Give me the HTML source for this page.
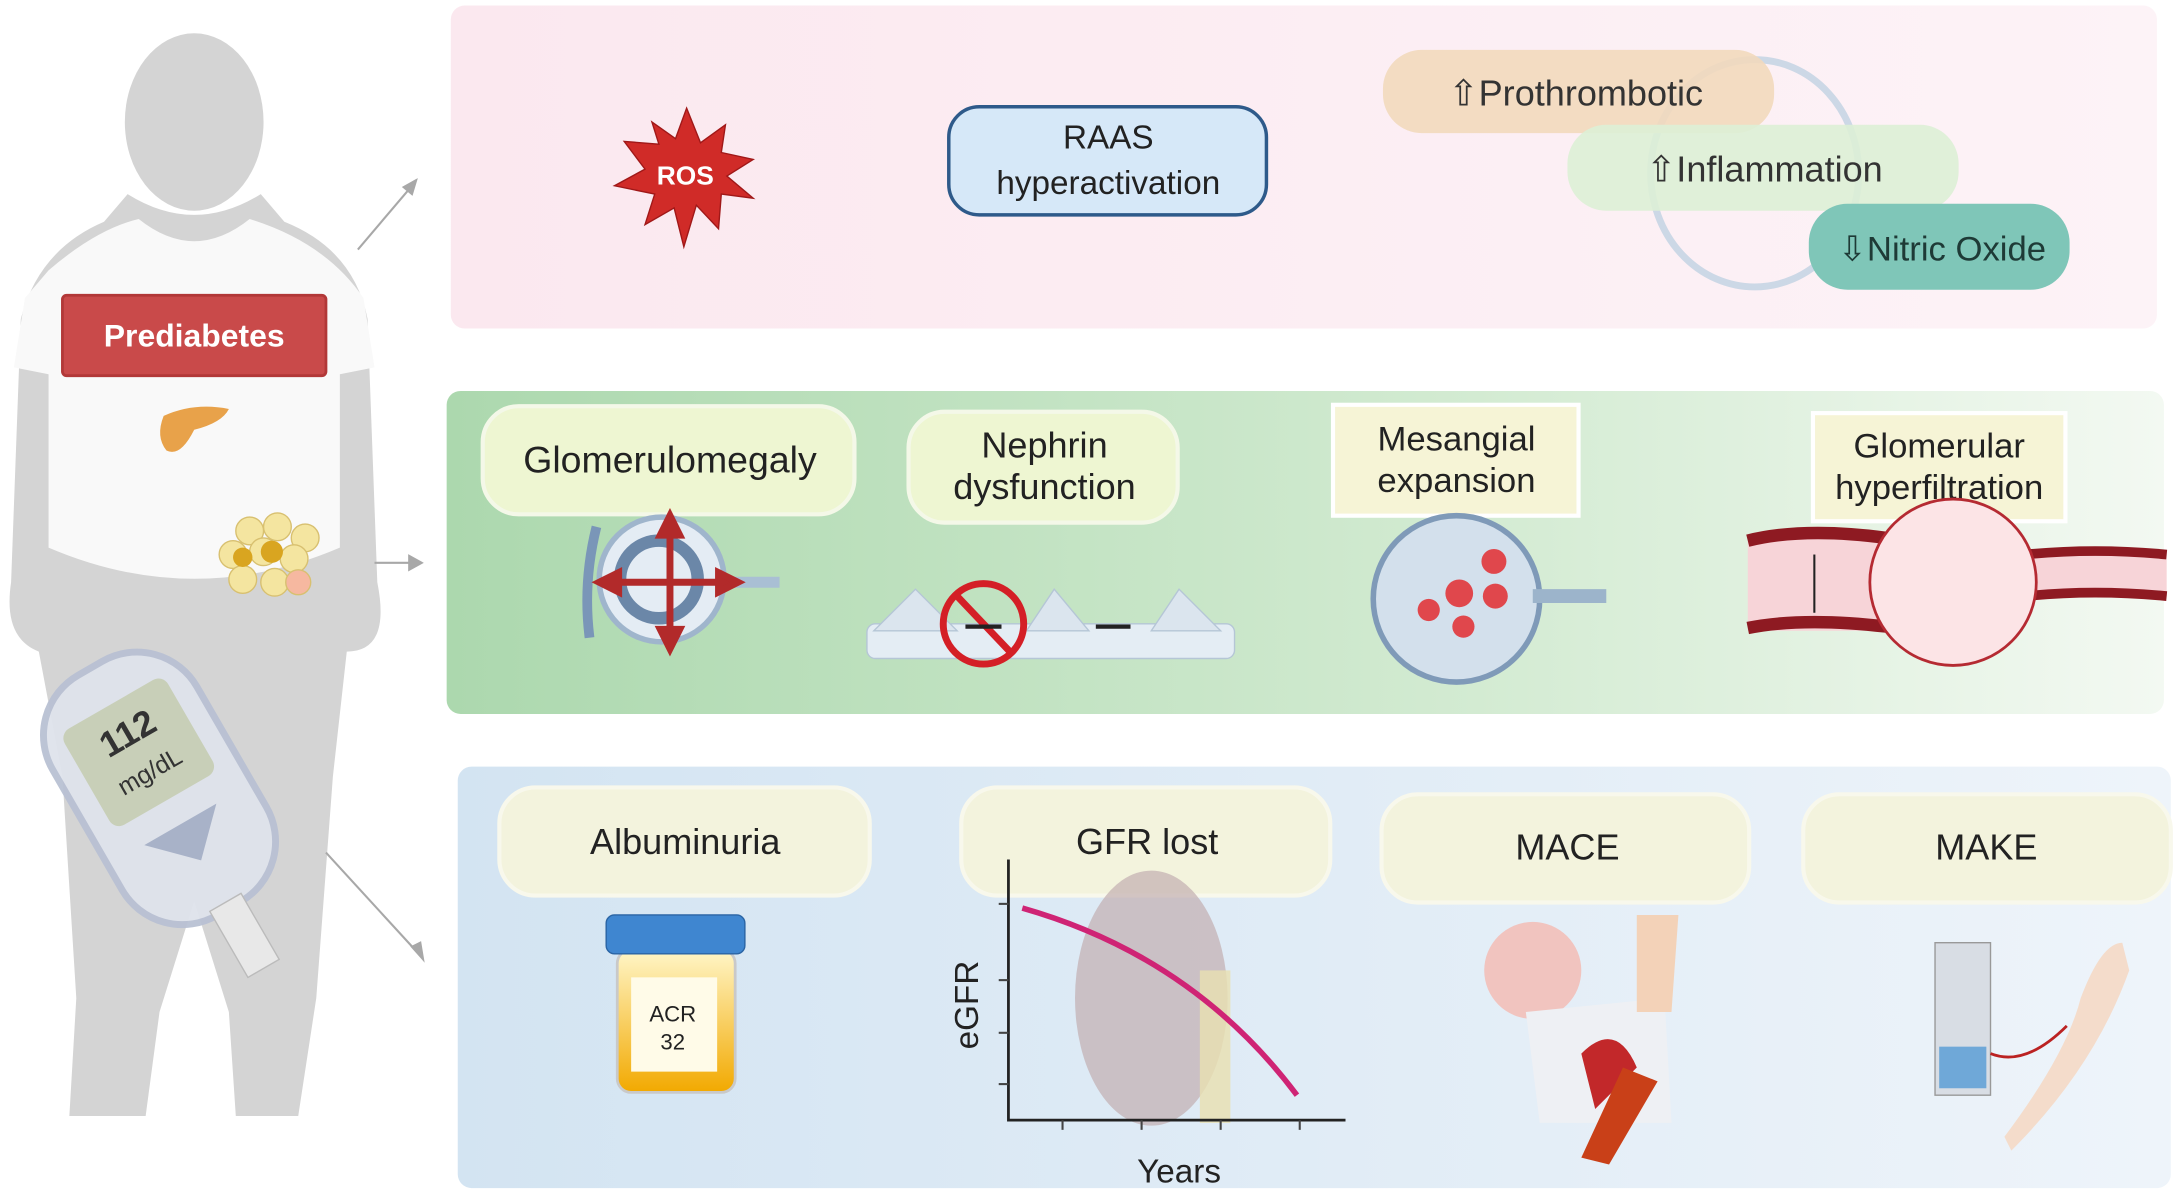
<!DOCTYPE html>
<html><head><meta charset="utf-8"><style>
html,body{margin:0;padding:0;background:#fff;}
svg{display:block;}
text{font-family:"Liberation Sans",sans-serif;}
</style></head><body>
<svg width="2175" height="1195" viewBox="0 0 1568 862" preserveAspectRatio="none" xmlns="http://www.w3.org/2000/svg">
<defs>
<linearGradient id="gp" x1="0" x2="1"><stop offset="0" stop-color="#fbe8ef"/><stop offset="1" stop-color="#fdf3f7"/></linearGradient>
<linearGradient id="gg" x1="0" x2="1"><stop offset="0" stop-color="#acd8ae"/><stop offset="0.6" stop-color="#d3ebd2"/><stop offset="1" stop-color="#f3f9f2"/></linearGradient>
<linearGradient id="gb" x1="0" x2="1"><stop offset="0" stop-color="#d3e4f2"/><stop offset="1" stop-color="#eef4fa"/></linearGradient>
<linearGradient id="gu" x1="0" x2="0" y1="0" y2="1"><stop offset="0" stop-color="#fff6c8"/><stop offset="1" stop-color="#f2a900"/></linearGradient>
</defs>
<rect width="1568" height="862" fill="#fff"/>
<rect x="325" y="4" width="1230" height="233" rx="10" fill="url(#gp)"/>
<rect x="322" y="282" width="1238" height="233" rx="10" fill="url(#gg)"/>
<rect x="330" y="553" width="1235" height="304" rx="10" fill="url(#gb)"/>

<!-- silhouette -->
<g fill="#d4d4d4">
<ellipse cx="140" cy="88" rx="50" ry="64"/>
<path d="M92 140 Q140 170 188 140 L205 160 Q255 180 265 230 L272 420 Q282 470 250 470 L240 560 L228 720 L215 805 L170 805 L165 730 L140 650 L115 730 L105 805 L50 805 L55 720 L45 560 L28 470 Q2 460 8 420 L15 230 Q28 180 75 160 Z"/>
</g>
<path d="M35 195 Q70 165 100 158 Q140 190 180 158 Q235 175 262 215 L270 265 L245 270 L245 395 Q140 440 35 395 L35 270 L10 265 L18 215 Z" fill="#f9f9f9"/>
<path d="M118 300 Q140 290 165 295 Q160 305 140 310 Q130 330 120 325 Q112 315 118 300Z" fill="#e8a24a"/>
<g fill="#f4e5a0" stroke="#d8c070" stroke-width="1">
<circle cx="180" cy="383" r="10"/><circle cx="200" cy="380" r="10"/><circle cx="220" cy="388" r="10"/><circle cx="168" cy="400" r="10"/><circle cx="190" cy="398" r="10"/><circle cx="212" cy="403" r="10"/><circle cx="175" cy="418" r="10"/><circle cx="198" cy="420" r="10"/><circle cx="215" cy="420" r="9" fill="#f6b8a0"/>
</g>
<circle cx="196" cy="398" r="8" fill="#d9a520"/><circle cx="175" cy="402" r="7" fill="#d9a520"/>
<g transform="rotate(-30 110 560)">
<rect x="50" y="470" width="120" height="200" rx="50" fill="#dfe3ec" stroke="#b9c1d3" stroke-width="5" opacity="0.95"/>
<rect x="67" y="500" width="86" height="80" rx="8" fill="#c8cfb8"/>
<text x="110" y="533" font-size="26" font-weight="bold" text-anchor="middle" fill="#333">112</text>
<text x="110" y="562" font-size="18" text-anchor="middle" fill="#333">mg/dL</text>
<path d="M80 600 L140 600 L110 630Z" fill="#a8b2c8"/>
<rect x="97" y="665" width="26" height="55" fill="#e8e8e8" stroke="#bbb"/>
</g>
<rect x="45" y="213" width="190" height="58" rx="3" fill="#c94a4a" stroke="#b23838" stroke-width="2"/>
<text x="140" y="250" font-size="23" font-weight="bold" text-anchor="middle" fill="#fff">Prediabetes</text>

<g stroke="#a8a8a8" stroke-width="1.5" fill="#a8a8a8">
<line x1="258" y1="180" x2="297" y2="134"/><path d="M300 130 L291 135 L297 140Z"/>
<line x1="270" y1="406" x2="296" y2="406"/><path d="M304 406 L295 401 L295 411Z"/>
<line x1="235" y1="615" x2="300" y2="686"/><path d="M305 692 L297 683 L303 680Z"/>
</g>

<path d="M495 78 L505 103 L523 90 L520 110 L543 115 L524 127 L543 143 L520 140 L518 165 L502 148 L493 178 L486 150 L465 162 L472 140 L443 134 L465 122 L450 102 L475 104 L470 88 L487 100Z" fill="#d02b28" stroke="#a01818"/>
<text x="494" y="133" font-size="19" font-weight="bold" text-anchor="middle" fill="#fff">ROS</text>
<rect x="684" y="77" width="229" height="78" rx="22" fill="#d6e8f8" stroke="#2e5a8a" stroke-width="2.5"/>
<text x="799" y="107" font-size="24" text-anchor="middle" fill="#222">RAAS</text>
<text x="799" y="140" font-size="24" text-anchor="middle" fill="#222">hyperactivation</text>
<ellipse cx="1265" cy="125" rx="75" ry="82" fill="none" stroke="#b8cde0" stroke-width="5" opacity="0.7"/>
<rect x="997" y="36" width="282" height="60" rx="28" fill="#f2d9bd" opacity="0.9"/>
<text x="1136" y="76" font-size="26" text-anchor="middle" fill="#333">⇧Prothrombotic</text>
<rect x="1130" y="90" width="282" height="62" rx="28" fill="#ddf0d6" opacity="0.9"/>
<text x="1272" y="131" font-size="26" text-anchor="middle" fill="#333">⇧Inflammation</text>
<rect x="1304" y="147" width="188" height="62" rx="28" fill="#7fc6b8"/>
<text x="1400" y="188" font-size="25" text-anchor="middle" fill="#1e3a36">⇩Nitric Oxide</text>

<rect x="348" y="293" width="268" height="78" rx="26" fill="#eef6d2" stroke="#f4f8e8" stroke-width="3"/>
<text x="483" y="341" font-size="27" text-anchor="middle" fill="#222">Glomerulomegaly</text>
<rect x="655" y="297" width="194" height="80" rx="26" fill="#eef6d2" stroke="#f4f8e8" stroke-width="3"/>
<text x="753" y="330" font-size="26" text-anchor="middle" fill="#222">Nephrin</text>
<text x="753" y="360" font-size="26" text-anchor="middle" fill="#222">dysfunction</text>
<rect x="961" y="292" width="177" height="80" fill="#f6f4d6" stroke="#fff" stroke-width="3"/>
<text x="1050" y="325" font-size="25" text-anchor="middle" fill="#222">Mesangial</text>
<text x="1050" y="355" font-size="25" text-anchor="middle" fill="#222">expansion</text>
<rect x="1307" y="298" width="182" height="78" fill="#f6f4d6" stroke="#fff" stroke-width="3"/>
<text x="1398" y="330" font-size="25" text-anchor="middle" fill="#222">Glomerular</text>
<text x="1398" y="360" font-size="25" text-anchor="middle" fill="#222">hyperfiltration</text>
<circle cx="477" cy="418" r="45" fill="#e4ecf4" stroke="#9fb5cc" stroke-width="4"/>
<circle cx="475" cy="418" r="28" fill="none" stroke="#6b87a8" stroke-width="9"/>
<path d="M520 420 L562 420" stroke="#a9bfd4" stroke-width="8"/>
<path d="M430 380 Q420 420 425 460" stroke="#7a96b8" stroke-width="7" fill="none"/>
<g stroke="#b22a2a" stroke-width="5" fill="#b22a2a"><line x1="483" y1="380" x2="483" y2="460"/><line x1="440" y1="420" x2="525" y2="420"/>
<path d="M483 372 L476 386 L490 386Z"/><path d="M483 468 L476 454 L490 454Z"/><path d="M432 420 L446 413 L446 427Z"/><path d="M532 420 L518 413 L518 427Z"/></g>
<rect x="625" y="450" width="265" height="25" rx="6" fill="#e4edf4" stroke="#b5c6d6"/>
<path d="M630 455 L660 425 L690 455Z M740 455 L760 425 L785 455Z M830 455 L850 425 L880 455Z" fill="#dbe5ee" stroke="#b5c6d6"/>
<circle cx="709" cy="450" r="29" fill="none" stroke="#d41f26" stroke-width="5"/>
<line x1="690" y1="430" x2="728" y2="470" stroke="#d41f26" stroke-width="5"/>
<line x1="696" y1="452" x2="722" y2="452" stroke="#222" stroke-width="3"/>
<line x1="790" y1="452" x2="815" y2="452" stroke="#222" stroke-width="3"/>
<circle cx="1050" cy="432" r="60" fill="#d3e0ec" stroke="#7f9ab8" stroke-width="4"/>
<path d="M1105 430 L1158 430" stroke="#9cb4cb" stroke-width="10"/>
<g fill="#e0474c"><circle cx="1077" cy="405" r="9"/><circle cx="1052" cy="428" r="10"/><circle cx="1078" cy="430" r="9"/><circle cx="1030" cy="440" r="8"/><circle cx="1055" cy="452" r="8"/></g>
<path d="M1260 390 L1370 385 L1370 455 L1260 455Z" fill="#f7d4d8"/>
<path d="M1260 390 Q1300 380 1360 388" stroke="#8e1a22" stroke-width="9" fill="none"/>
<path d="M1260 453 Q1300 445 1360 452" stroke="#8e1a22" stroke-width="9" fill="none"/>
<path d="M1460 400 L1562 398 L1562 430 L1460 428Z" fill="#f7d4d8"/>
<path d="M1460 400 Q1510 395 1562 400" stroke="#8e1a22" stroke-width="7" fill="none"/>
<path d="M1460 430 Q1510 425 1562 430" stroke="#8e1a22" stroke-width="7" fill="none"/>
<circle cx="1408" cy="420" r="60" fill="#fce4e6" stroke="#b52a32" stroke-width="2"/>
<line x1="1308" y1="400" x2="1308" y2="442" stroke="#222" stroke-width="1.5"/>

<rect x="360" y="568" width="267" height="78" rx="26" fill="#f3f3dd" stroke="#f8f8ec" stroke-width="3"/>
<text x="494" y="616" font-size="26" text-anchor="middle" fill="#222">Albuminuria</text>
<rect x="693" y="568" width="266" height="78" rx="26" fill="#f3f3dd" stroke="#f8f8ec" stroke-width="3"/>
<text x="827" y="616" font-size="26" text-anchor="middle" fill="#222">GFR lost</text>
<rect x="996" y="573" width="265" height="78" rx="26" fill="#f3f3dd" stroke="#f8f8ec" stroke-width="3"/>
<text x="1130" y="620" font-size="26" text-anchor="middle" fill="#222">MACE</text>
<rect x="1300" y="573" width="265" height="78" rx="26" fill="#f3f3dd" stroke="#f8f8ec" stroke-width="3"/>
<text x="1432" y="620" font-size="26" text-anchor="middle" fill="#222">MAKE</text>
<rect x="445" y="685" width="85" height="103" rx="10" fill="url(#gu)" stroke="#c9c9c9" stroke-width="2"/>
<rect x="437" y="660" width="100" height="28" rx="6" fill="#3f86d0" stroke="#2a64a4"/>
<rect x="455" y="705" width="62" height="68" fill="#fffbe8"/>
<text x="485" y="737" font-size="16" text-anchor="middle" fill="#222">ACR</text>
<text x="485" y="757" font-size="16" text-anchor="middle" fill="#222">32</text>
<ellipse cx="830" cy="720" rx="55" ry="92" fill="#c2aeb0" opacity="0.7"/>
<rect x="865" y="700" width="22" height="110" fill="#e8e0b0" opacity="0.8"/>
<path d="M727 620 L727 808 L970 808" stroke="#222" stroke-width="2" fill="none"/>
<g stroke="#444" stroke-width="1.5"><line x1="720" y1="652" x2="727" y2="652"/><line x1="720" y1="707" x2="727" y2="707"/><line x1="720" y1="745" x2="727" y2="745"/><line x1="720" y1="782" x2="727" y2="782"/><line x1="766" y1="808" x2="766" y2="815"/><line x1="823" y1="808" x2="823" y2="815"/><line x1="880" y1="808" x2="880" y2="815"/><line x1="937" y1="808" x2="937" y2="815"/></g>
<path d="M737 655 Q860 690 935 790" stroke="#cf2475" stroke-width="4" fill="none"/>
<text x="705" y="725" font-size="24" text-anchor="middle" fill="#222" transform="rotate(-90 705 725)">eGFR</text>
<text x="850" y="853" font-size="24" text-anchor="middle" fill="#222">Years</text>
<circle cx="1105" cy="700" r="35" fill="#f1c4bf"/>
<path d="M1100 730 L1200 720 L1205 810 L1110 810Z" fill="#eef0f4"/>
<path d="M1140 760 Q1165 735 1180 770 L1150 800Z" fill="#c2282a"/>
<path d="M1140 835 L1170 770 L1195 780 L1160 840Z" fill="#c94018"/>
<path d="M1180 660 L1210 660 L1205 730 L1180 730Z" fill="#f3d2b8"/>
<rect x="1395" y="680" width="40" height="110" fill="#d8dde4" stroke="#999"/>
<rect x="1398" y="755" width="34" height="30" fill="#6fa8d8"/>
<path d="M1435 760 Q1460 770 1490 740" stroke="#b22" stroke-width="2" fill="none"/>
<path d="M1500 720 Q1515 680 1530 680 L1535 700 Q1510 770 1450 830 L1445 820 Q1490 760 1500 720Z" fill="#f4dccb"/>
</svg>
</body></html>
